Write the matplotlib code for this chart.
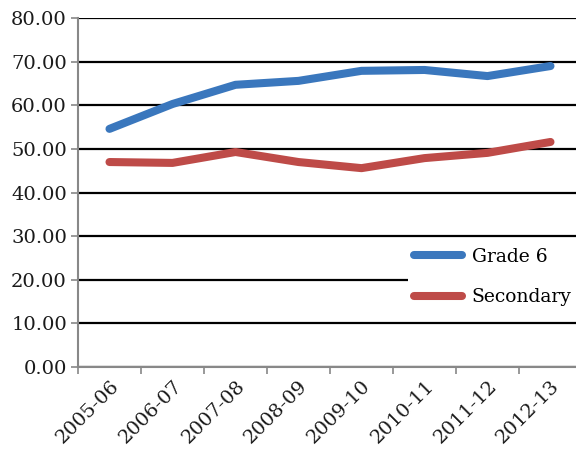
import matplotlib.pyplot as plt
import numpy as np

years = ['2005-06', '2006-07', '2007-08', '2008-09',
         '2009-10', '2010-11', '2011-12', '2012-13']
grade6 = [54.6, 60.3, 64.7, 65.6, 67.9, 68.1, 66.7, 69.0]
secondary = [47.0, 46.8, 49.3, 47.0, 45.6, 47.9, 49.1, 51.6]

plt.rcParams['font.family'] = ['DejaVu Serif']

fig = plt.figure(figsize=(5.76, 4.51), dpi=100)
ax = fig.add_axes([0.1354, 0.186, 0.875, 0.774])

x = np.arange(len(years))
ax.plot(x, grade6, color='#3A77BD', lw=5.8, solid_capstyle='round', label='Grade 6', zorder=3)
ax.plot(x, secondary, color='#BE4B48', lw=5.8, solid_capstyle='round', label='Secondary', zorder=3)

ax.set_xlim(-0.5, len(years) - 0.5)
ax.set_ylim(0, 80)
ax.set_yticks(np.arange(0, 81, 10))
ax.set_yticklabels(['%.2f' % v for v in np.arange(0, 81, 10)], fontsize=14, color='#1a1a1a')
ax.yaxis.grid(True, color='black', lw=1.6)
ax.set_axisbelow(True)

# boundary ticks between categories, labels centred on each category
ax.set_xticks(np.arange(len(years) + 1) - 0.5)
ax.set_xticklabels([])
ax.set_xticks(x, minor=True)
ax.set_xticklabels(years, minor=True, rotation=45, ha='right', va='top',
                   rotation_mode='anchor', fontsize=14, color='#1a1a1a')
ax.tick_params(axis='x', which='minor', length=0, pad=7)
ax.tick_params(axis='x', which='major', length=5, color='#888888', width=1.2)
ax.tick_params(axis='y', length=5, color='#888888', width=1.2, pad=3)

for s in ['top', 'right']:
    ax.spines[s].set_visible(False)
for s in ['left', 'bottom']:
    ax.spines[s].set_color('#888888')
    ax.spines[s].set_linewidth(1.5)

leg = ax.legend(loc='center right', bbox_to_anchor=(1.009, 0.258), frameon=True,
                fontsize=13.5, handlelength=2.6, handletextpad=0.5, labelspacing=1.2,
                borderpad=0.3, fancybox=False)
leg.get_frame().set_edgecolor('none')
leg.get_frame().set_facecolor('white')
leg.get_frame().set_alpha(1.0)

fig.savefig('out.png', dpi=100)
